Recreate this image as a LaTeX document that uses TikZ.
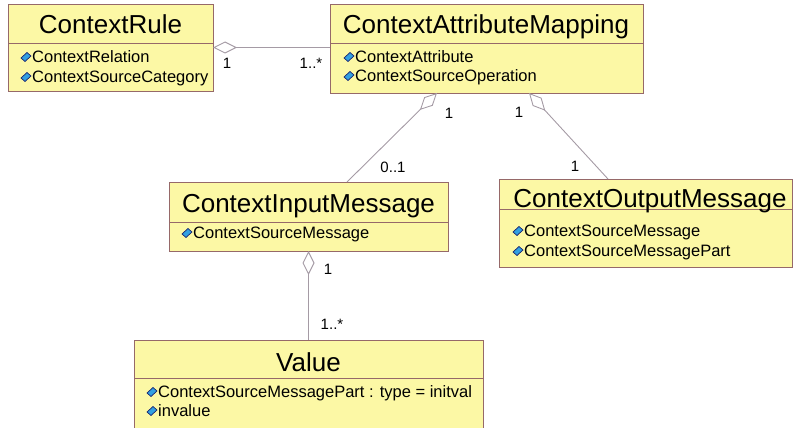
\documentclass[tikz,border=0pt]{standalone}
\usepackage{fontspec}
\setmainfont{Liberation Sans}
\usetikzlibrary{arrows.meta}
\definecolor{boxfill}{RGB}{252,248,165}
\definecolor{boxline}{RGB}{150,105,105}
\definecolor{conline}{RGB}{165,155,165}
\definecolor{iconblue}{RGB}{50,160,225}
\definecolor{icondark}{RGB}{25,35,110}
\tikzset{
  umlbox/.style={draw=boxline, fill=boxfill, line width=0.9pt, anchor=north west, inner sep=0pt, outer sep=0pt},
  divider/.style={draw=boxline, line width=0.9pt},
  title/.style={font=\fontsize{26}{30}\selectfont, text height=18.6pt, text depth=0pt, inner sep=0pt, anchor=center},
  attr/.style={font=\fontsize{16.5}{19}\selectfont, text height=11.8pt, text depth=0pt, inner sep=0pt, anchor=west},
  mult/.style={font=\fontsize{15}{18}\selectfont, text height=10.7pt, text depth=0pt, inner sep=0pt, anchor=center},
  aggr/.style={draw=conline, line width=0.9pt, {Diamond[open, length=24pt, width=12pt, line width=0.9pt]}-},
  attricon/.pic={\filldraw[fill=iconblue, draw=icondark, line width=0.7pt] (-5,1) -- (1,-4.5) -- (5,-1) -- (-1,4.5) -- cycle;}
}
\begin{document}
\begin{tikzpicture}[x=1pt, y=-1pt]
\useasboundingbox (0,0) rectangle (793,428);
% ContextRule
\node[umlbox, minimum width=205pt, minimum height=87pt] (cr) at (8,4) {};
\draw[divider] (8,43) -- (213,43);
\node[title] (crt) at (110.5,24) {ContextRule};
\pic at (26,57) {attricon};
\node[attr] (cra1) at (32,57) {ContextRelation};
\pic at (26,77) {attricon};
\node[attr] (cra2) at (32,77) {ContextSourceCategory};
% ContextAttributeMapping
\node[umlbox, minimum width=313pt, minimum height=89pt] (cam) at (330,4) {};
\draw[divider] (330,43) -- (643,43);
\node[title] (camt) at (486,24) {ContextAttributeMapping};
\pic at (349,57) {attricon};
\node[attr] (cama1) at (355,57) {ContextAttribute};
\pic at (349,76) {attricon};
\node[attr] (cama2) at (355,76) {ContextSourceOperation};
% ContextInputMessage
\node[umlbox, minimum width=279pt, minimum height=69pt] (cim) at (169,182) {};
\draw[divider] (169,222) -- (448,222);
\node[title] (cimt) at (308.5,203) {ContextInputMessage};
\pic at (187,233) {attricon};
\node[attr] (cima1) at (193,233) {ContextSourceMessage};
% ContextOutputMessage
\node[umlbox, minimum width=293pt, minimum height=88pt] (com) at (499,179) {};
\draw[divider] (499,209) -- (792,209);
\node[title] (comt) at (650,198) {ContextOutputMessage};
\pic at (518,231) {attricon};
\node[attr] (coma1) at (524,231) {ContextSourceMessage};
\pic at (518,251) {attricon};
\node[attr] (coma2) at (524,251) {ContextSourceMessagePart};
% Value
\node[umlbox, minimum width=349pt, minimum height=88pt] (val) at (134,340) {};
\draw[divider] (134,378) -- (483,378);
\node[title] (valt) at (308.5,362) {Value};
\pic at (152,392) {attricon};
\node[attr] (vala1) at (158,392) {ContextSourceMessagePart : type = initval};
\pic at (152,411) {attricon};
\node[attr] (vala2) at (158,411) {invalue};
% connector anchor points
\coordinate (camL) at (437,93);
\coordinate (cimT) at (347,182);
\coordinate (camR) at (529,93);
\coordinate (comT) at (608,179);
% connectors
\draw[aggr] (cr.east) -- (cr.east -| cam.west);
\draw[aggr] (camL) -- (cimT);
\draw[aggr] (camR) -- (comT);
\draw[aggr] (cim.south) -- (val.north);
% multiplicities
\node[mult] (m1) at (227,63) {1};
\node[mult] (m2) at (311,63) {1..*};
\node[mult] (m3) at (449,113) {1};
\node[mult] (m4) at (393,167) {0..1};
\node[mult] (m5) at (519,112) {1};
\node[mult] (m6) at (575,166) {1};
\node[mult] (m7) at (328,269) {1};
\node[mult] (m8) at (332,324) {1..*};
\end{tikzpicture}
\end{document}
